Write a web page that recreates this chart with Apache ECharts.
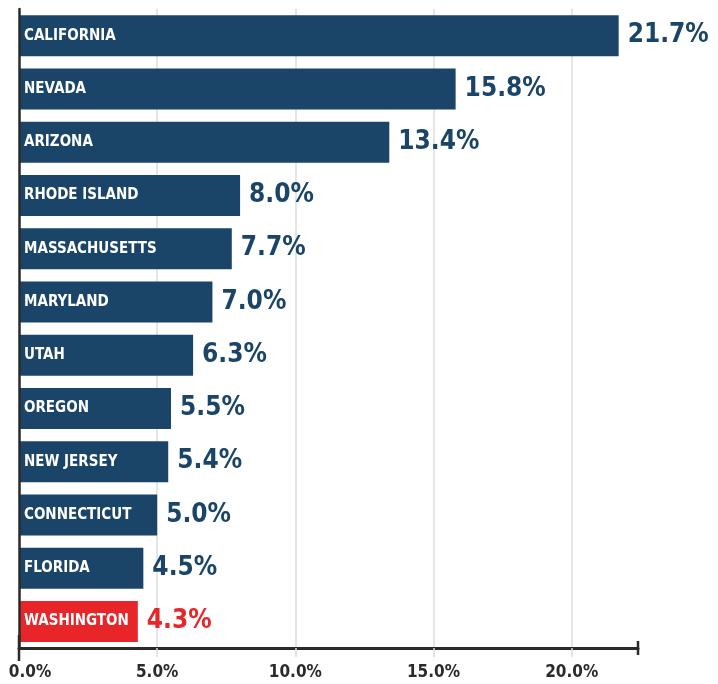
<!DOCTYPE html>
<html>
<head>
<meta charset="utf-8">
<style>
  html, body { margin: 0; padding: 0; background: #fff; }
  #main { width: 718px; height: 684px; }
</style>
<script src="https://cdn.jsdelivr.net/npm/echarts@6/dist/echarts.min.js"></script>
</head>
<body>
<div id="main"></div>
<script>
// data
var states = ['CALIFORNIA', 'NEVADA', 'ARIZONA', 'RHODE ISLAND', 'MASSACHUSETTS', 'MARYLAND',
  'UTAH', 'OREGON', 'NEW JERSEY', 'CONNECTICUT', 'FLORIDA', 'WASHINGTON'];
var shares = [21.7, 15.8, 13.4, 8.0, 7.7, 7.0, 6.3, 5.5, 5.4, 5.0, 4.5, 4.3];
var highlight = 'WASHINGTON';
var gridTicks = [5, 10, 15, 20];

var NAVY = '#1a4468';
var RED = '#e8262a';
var FONT = '"Liberation Sans Narrow", "DejaVu Sans Condensed", Roboto, sans-serif';

var chart = echarts.init(document.getElementById('main'));

var barData = shares.map(function (v, i) {
  var c = states[i] === highlight ? RED : NAVY;
  return { value: v, itemStyle: { color: c }, label: { color: c } };
});

chart.setOption({
  animation: false,
  grid: { left: 19, right: 80, top: 9, bottom: 36, containLabel: false, outerBoundsMode: 'none' },
  xAxis: {
    type: 'value',
    min: 0,
    max: 22.4,
    interval: 5,
    axisLine: {
      show: true,
      lineStyle: { color: '#2a2a2a', width: 3 },
      symbol: ['none', 'rect'],
      symbolSize: [14, 2.5]
    },
    axisTick: { show: true, length: 9, lineStyle: { color: '#dcdcdc', width: 1.5 } },
    splitLine: { show: false },
    axisLabel: {
      show: true,
      margin: 16,
      showMaxLabel: false,
      color: '#2a2a2a',
      fontFamily: FONT,
      fontWeight: 'bold',
      fontSize: 17,
      formatter: function (v) {
        var s = v.toFixed(1) + '%';
        return v === 0 ? '{first|' + s + '}' : s;
      },
      rich: {
        first: {
          color: '#2a2a2a',
          fontFamily: FONT,
          fontWeight: 'bold',
          fontSize: 17,
          padding: [0, 0, 0, 22]
        }
      }
    }
  },
  yAxis: {
    type: 'category',
    inverse: true,
    data: states,
    z: 10,
    axisLine: {
      show: true,
      lineStyle: { color: '#2a2a2a', width: 2.5 },
      symbol: ['rect', 'none'],
      symbolSize: [2.5, 26]
    },
    axisTick: { show: false },
    axisLabel: {
      inside: true,
      margin: 5,
      color: '#fff',
      fontFamily: FONT,
      fontWeight: 'bold',
      fontSize: 15,
      verticalAlign: 'middle',
      padding: [4, 0, 0, 0]
    }
  },
  series: [{
    type: 'bar',
    data: barData,
    barWidth: 41,
    label: {
      show: true,
      position: 'right',
      distance: 9,
      fontFamily: FONT,
      fontWeight: 'bold',
      fontSize: 26,
      padding: [4, 0, 0, 0],
      formatter: function (p) { return p.value.toFixed(1) + '%'; }
    },
    markLine: {
      silent: true,
      symbol: 'none',
      z: 0,
      label: { show: false },
      lineStyle: { color: '#dcdcdc', width: 1.5, type: 'solid' },
      data: gridTicks.map(function (t) { return { xAxis: t }; })
    }
  }]
});
</script>
</body>
</html>
